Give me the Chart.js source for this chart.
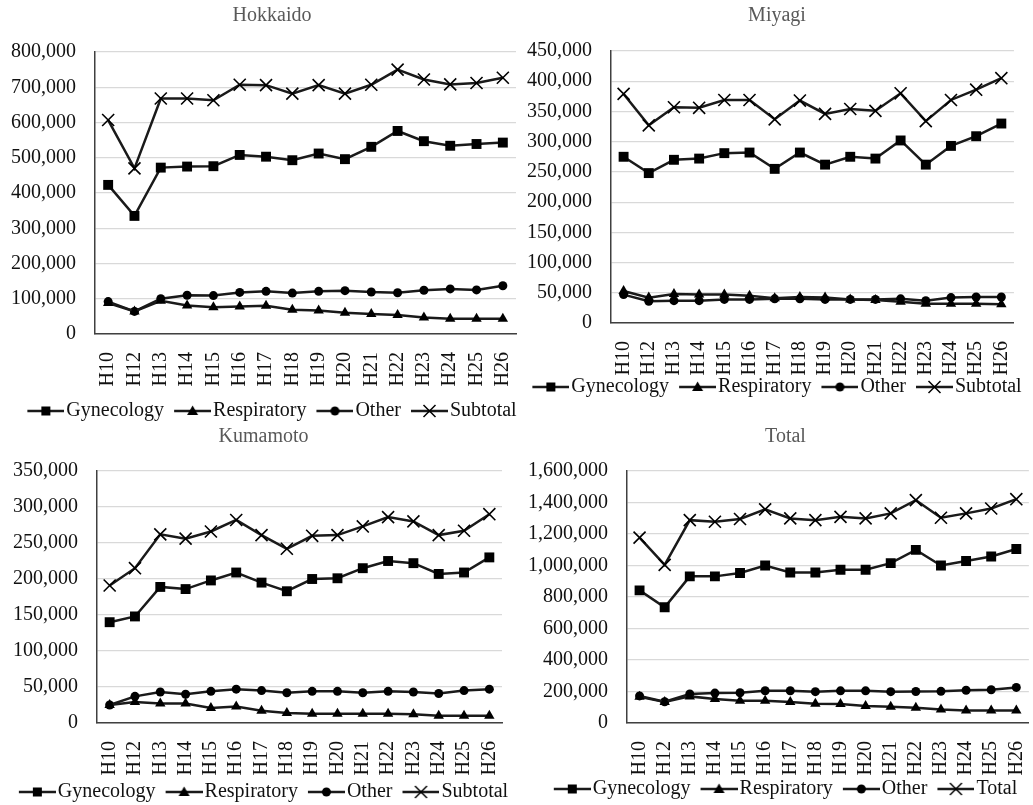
<!DOCTYPE html>
<html>
<head>
<meta charset="utf-8">
<title>Patients by region, H10-H26</title>
<script src="https://cdn.jsdelivr.net/npm/chart.js@4.4.1/dist/chart.umd.min.js"></script>
<style>
    html, body { margin: 0; padding: 0; background: #fff; overflow: hidden; }
    #page { position: relative; width: 1033px; height: 805px; overflow: hidden; }
    #page canvas { position: absolute; }
</style>
</head>
<body>
<div id="page">
    <canvas id="chart-hokkaido"></canvas>
    <canvas id="chart-miyagi"></canvas>
    <canvas id="chart-kumamoto"></canvas>
    <canvas id="chart-total"></canvas>
</div>
<script>
// Fiscal years (Heisei era)
const years = ['H10', 'H12', 'H13', 'H14', 'H15', 'H16', 'H17', 'H18', 'H19', 'H20', 'H21', 'H22', 'H23', 'H24', 'H25', 'H26'];

// Hokkaido
const hokkaidoGynecology = [423000, 335000, 472000, 475000, 476000, 508000, 503000, 493000, 512000, 496000, 531000, 576000, 547000, 534000, 539000, 543000];
const hokkaidoRespiratory = [88000, 64000, 94000, 81000, 76000, 78000, 80000, 69000, 67000, 60000, 57000, 54000, 47000, 43000, 43000, 43000];
const hokkaidoOther = [92000, 64000, 100000, 110000, 109000, 118000, 121000, 116000, 121000, 123000, 119000, 117000, 124000, 128000, 125000, 137000];
const hokkaidoSubtotal = [607000, 470000, 668000, 668000, 663000, 707000, 706000, 682000, 706000, 682000, 707000, 750000, 722000, 708000, 712000, 727000];

// Miyagi
const miyagiGynecology = [275000, 248000, 270000, 272000, 281000, 282000, 255000, 282000, 262000, 275000, 272000, 302000, 262000, 293000, 309000, 330000];
const miyagiRespiratory = [53000, 42000, 48000, 47000, 47000, 45000, 41000, 43000, 42000, 39000, 38000, 35000, 32000, 32000, 32000, 31000];
const miyagiOther = [47000, 36000, 37000, 37000, 39000, 39000, 40000, 40000, 39000, 39000, 39000, 40000, 37000, 42000, 43000, 43000];
const miyagiSubtotal = [379000, 327000, 357000, 356000, 369000, 369000, 337000, 368000, 346000, 354000, 351000, 380000, 334000, 369000, 386000, 405000];

// Kumamoto
const kumamotoGynecology = [140000, 148000, 189000, 186000, 198000, 209000, 195000, 183000, 200000, 201000, 215000, 225000, 222000, 207000, 209000, 230000];
const kumamotoRespiratory = [25000, 29000, 27000, 27000, 21000, 23000, 17000, 14000, 13000, 13000, 13000, 13000, 12000, 10000, 10000, 10000];
const kumamotoOther = [25000, 37000, 43000, 40000, 44000, 47000, 45000, 42000, 44000, 44000, 42000, 44000, 43000, 41000, 45000, 47000];
const kumamotoSubtotal = [191000, 215000, 262000, 256000, 266000, 282000, 261000, 242000, 260000, 261000, 273000, 286000, 280000, 261000, 267000, 290000];

// Total of the three prefectures
const totalGynecology = [842000, 735000, 931000, 931000, 952000, 1000000, 956000, 956000, 973000, 973000, 1015000, 1099000, 1000000, 1029000, 1057000, 1105000];
const totalRespiratory = [166000, 134000, 169000, 152000, 141000, 142000, 134000, 123000, 120000, 108000, 103000, 97000, 86000, 80000, 80000, 80000];
const totalOther = [172000, 135000, 184000, 190000, 192000, 205000, 205000, 199000, 204000, 204000, 199000, 200000, 201000, 208000, 211000, 226000];
const totalTotal = [1177000, 1004000, 1288000, 1278000, 1295000, 1356000, 1299000, 1288000, 1309000, 1299000, 1331000, 1415000, 1303000, 1331000, 1362000, 1421000];

// y axis ranges per panel
const hokkaidoTicks = { max: 800000, step: 100000 };
const miyagiTicks = { max: 450000, step: 50000 };
const kumamotoTicks = { max: 350000, step: 50000 };
const totalTicks = { max: 1600000, step: 200000 };

const FONT = "'Liberation Serif', 'Times New Roman', serif";
const LINE_COLOR = '#1a1a1a';

Chart.defaults.font.family = FONT;
Chart.defaults.font.size = 20;
Chart.defaults.color = '#111';

// small canvas used as legend symbol: line with the marker in the middle
function legendIcon(style) {
    const c = document.createElement('canvas');
    c.width = 45;
    c.height = 20;
    const ctx = c.getContext('2d');
    ctx.strokeStyle = LINE_COLOR;
    ctx.lineWidth = 2.5;
    ctx.beginPath();
    ctx.moveTo(8, 10);
    ctx.lineTo(45, 10);
    ctx.stroke();
    const cx = 26.5, cy = 10;
    ctx.fillStyle = '#000';
    ctx.strokeStyle = '#000';
    ctx.beginPath();
    if (style === 'rect') {
        ctx.fillRect(cx - 4.5, cy - 4.5, 9, 9);
    } else if (style === 'triangle') {
        ctx.moveTo(cx, cy - 5.5);
        ctx.lineTo(cx + 5.5, cy + 4);
        ctx.lineTo(cx - 5.5, cy + 4);
        ctx.closePath();
        ctx.fill();
    } else if (style === 'circle') {
        ctx.arc(cx, cy, 4.5, 0, Math.PI * 2);
        ctx.fill();
    } else {
        ctx.lineWidth = 1.5;
        ctx.moveTo(cx - 6, cy - 6); ctx.lineTo(cx + 6, cy + 6);
        ctx.moveTo(cx + 6, cy - 6); ctx.lineTo(cx - 6, cy + 6);
        ctx.stroke();
    }
    return c;
}

const markerStyles = [
    { pointStyle: 'rect', pointRadius: 7, pointBorderWidth: 0 },
    { pointStyle: 'triangle', pointRadius: 6, pointBorderWidth: 0 },
    { pointStyle: 'circle', pointRadius: 4.5, pointBorderWidth: 0 },
    { pointStyle: 'crossRot', pointRadius: 8.5, pointBorderWidth: 1.6 }
];

function buildDatasets(labels, series) {
    return series.map((data, i) => ({
        label: labels[i],
        data: data,
        borderColor: LINE_COLOR,
        borderWidth: 2.5,
        tension: 0,
        fill: false,
        pointStyle: markerStyles[i].pointStyle,
        pointRadius: markerStyles[i].pointRadius,
        pointBorderWidth: markerStyles[i].pointBorderWidth,
        pointBackgroundColor: '#000',
        pointBorderColor: '#000'
    }));
}

function makePanel(id, box, title, legendLabels, series, ticks) {
    const canvas = document.getElementById(id);
    canvas.width = box.w;
    canvas.height = box.h;
    canvas.style.left = box.x + 'px';
    canvas.style.top = box.y + 'px';

    const styles = ['rect', 'triangle', 'circle', 'crossRot'];
    const n = legendLabels.length;

    return new Chart(canvas, {
        type: 'line',
        data: {
            labels: years,
            datasets: buildDatasets(legendLabels, series)
        },
        options: {
            responsive: false,
            animation: false,
            layout: { padding: 0 },
            plugins: {
                title: {
                    display: true,
                    text: title,
                    color: '#595959',
                    font: { family: FONT, size: 20, weight: 'normal' },
                    padding: { top: box.titleTop, bottom: box.titleBottom }
                },
                legend: {
                    display: true,
                    position: 'bottom',
                    labels: {
                        usePointStyle: true,
                        pointStyleWidth: 29,
                        padding: 0,
                        color: '#111',
                        font: { family: FONT, size: 20 },
                        // two trailing spaces keep the gap between entries
                        generateLabels: (chart) => chart.data.datasets.map((ds, i) => ({
                            text: i < n - 1 ? ds.label + '  ' : ds.label,
                            pointStyle: legendIcon(styles[i]),
                            datasetIndex: i,
                            hidden: false,
                            lineWidth: 0,
                            strokeStyle: 'transparent',
                            fillStyle: 'transparent',
                            fontColor: '#111'
                        }))
                    }
                },
                tooltip: { enabled: false }
            },
            scales: {
                x: {
                    offset: true,
                    grid: { display: false },
                    border: { display: true, color: '#404040', width: 1.5 },
                    ticks: {
                        autoSkip: false,
                        minRotation: 90,
                        maxRotation: 90,
                        padding: 10,
                        color: '#111',
                        font: { family: FONT, size: 20 }
                    },
                    afterFit: (scale) => { scale.height = box.xh; }
                },
                y: {
                    min: 0,
                    max: ticks.max,
                    grid: { color: '#d9d9d9', lineWidth: 1.2, drawTicks: false },
                    border: { display: true, color: '#404040', width: 1.5 },
                    ticks: {
                        stepSize: ticks.step,
                        padding: 19,
                        color: '#111',
                        font: { family: FONT, size: 20 },
                        callback: (v) => v.toLocaleString('en-US')
                    },
                    afterFit: (scale) => { scale.width = box.yw; }
                },
                pad: {
                    type: 'linear',
                    position: 'right',
                    display: true,
                    grid: { display: false },
                    border: { display: false },
                    ticks: { display: false },
                    afterFit: (scale) => { scale.width = box.rw; }
                }
            }
        }
    });
}

const subLabels = ['Gynecology', 'Respiratory', 'Other', 'Subtotal'];
const totLabels = ['Gynecology', 'Respiratory', 'Other', 'Total'];

makePanel('chart-hokkaido',
    { x: 0, y: 0, w: 544, h: 431, yw: 95, rw: 28, xh: 67, titleTop: 4, titleBottom: 24 },
    'Hokkaido', subLabels,
    [hokkaidoGynecology, hokkaidoRespiratory, hokkaidoOther, hokkaidoSubtotal], hokkaidoTicks);

makePanel('chart-miyagi',
    { x: 518, y: 0, w: 518, h: 407, yw: 93, rw: 21, xh: 54, titleTop: 4, titleBottom: 23 },
    'Miyagi', subLabels,
    [miyagiGynecology, miyagiRespiratory, miyagiOther, miyagiSubtotal], miyagiTicks);

makePanel('chart-kumamoto',
    { x: 0, y: 420, w: 527, h: 392, yw: 97, rw: 25, xh: 59, titleTop: 5, titleBottom: 22 },
    'Kumamoto', subLabels,
    [kumamotoGynecology, kumamotoRespiratory, kumamotoOther, kumamotoSubtotal], kumamotoTicks);

makePanel('chart-total',
    { x: 520, y: 420, w: 531, h: 389, yw: 107, rw: 22, xh: 56, titleTop: 5, titleBottom: 22 },
    'Total', totLabels,
    [totalGynecology, totalRespiratory, totalOther, totalTotal], totalTicks);
</script>
</body>
</html>
